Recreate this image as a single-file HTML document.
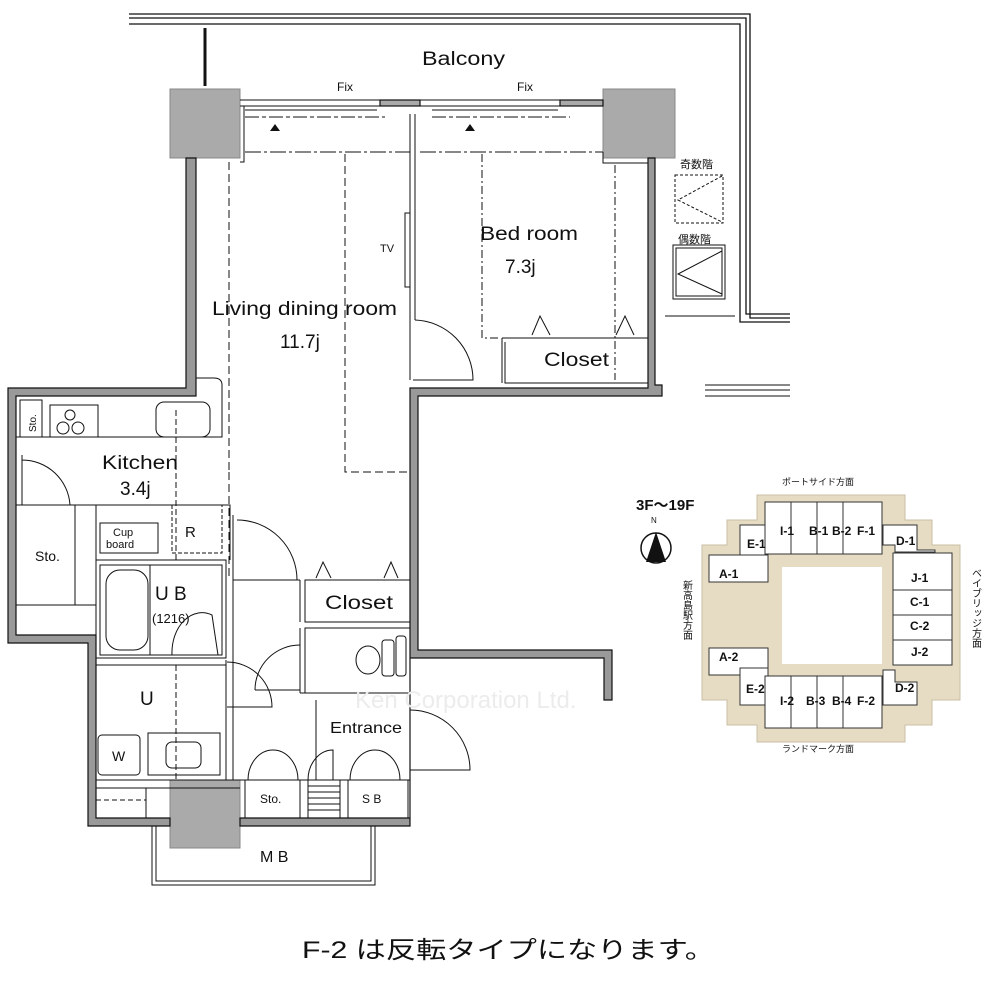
<!DOCTYPE html>
<html><head><meta charset="utf-8"><style>
html,body{margin:0;padding:0;background:#fff;}
svg{display:block;}
text{font-family:"Liberation Sans","Noto Sans CJK JP",sans-serif;fill:#111;}
</style></head><body>
<svg width="1000" height="1000" viewBox="0 0 1000 1000" xmlns="http://www.w3.org/2000/svg">
<g fill="none" stroke="#111" stroke-width="1.3">
<path d="M129,14 H750 V318 H790"/>
<path d="M129,18 H746 V314 H790"/>
<path d="M129,24 H740 V322 H790"/>
<line x1="205" y1="28" x2="205" y2="86" stroke-width="3"/>
</g>
<rect x="170" y="89" width="70" height="69" fill="#aaa" stroke="#888"/>
<rect x="603" y="89" width="72" height="69" fill="#aaa" stroke="#888"/>
<rect x="170" y="780" width="70" height="68" fill="#aaa" stroke="#888"/>
<g fill="#999" stroke="#111" stroke-width="1.2">
<path d="M186,158 H196 V396 H16 V635 H96 V818 H170 V826 H88 V643 H8 V388 H186 Z"/>
<path d="M240,818 H410 V658 H604 V700 H612 V650 H418 V396 H662 V385 H655 V158 H648 V388 H410 V826 H240 Z"/>
<rect x="380" y="100" width="40" height="6" fill="#aaa"/>
<rect x="560" y="100" width="43" height="6" fill="#aaa"/>
</g>
<g fill="none" stroke="#111" stroke-width="1">
<path d="M240,100 H380 M240,106 H380 M245,110 H377 M420,100 H560 M420,106 H560 M432,110 H558"/>
<path d="M245,117 H385 M432,117 H570" stroke-dasharray="14,3,4,3"/>
<path d="M245,152 H410 M420,152 H603" stroke-dasharray="16,3,3,3"/>
<path d="M244,106 V162 H240"/>
<path d="M603,152 V163 H648"/>
<path d="M410,114 V380 M415,114 V320"/>
<rect x="405" y="213" width="5" height="74"/>
<path d="M415,320 A60,60 0 0 1 473,380 H413"/>
<path d="M229,162 V478 M345,154 V472 H410 M229,472 V578" stroke-dasharray="8,4"/>
<path d="M482,154 V338 H500 M615,165 V380" stroke-dasharray="8,3,2,3"/>
<path d="M502,338 H648 M505,342 V383 H648 M502,338 V383"/>
<path d="M532,335 L540,316 L550,335 M616,335 L625,316 L634,335"/>
<rect x="675" y="175" width="48" height="48" stroke-dasharray="3,2"/>
<path d="M722,176 L678,200 L722,222" stroke-dasharray="3,2"/>
<rect x="673" y="245" width="52" height="54"/><rect x="676" y="248" width="46" height="48"/>
<path d="M722,251 L678,274 L722,294"/>
<path d="M665,316 H735 M705,385 H790 M705,390 H790 M705,396 H790"/>
<path d="M16,437 H222 V385 Q222,378 214,378 H196"/>
<rect x="20" y="400" width="22" height="37"/>
<rect x="50" y="405" width="48" height="32"/>
<circle cx="70" cy="415" r="5"/><circle cx="63" cy="428" r="6"/><circle cx="78" cy="428" r="6"/>
<rect x="156" y="402" width="54" height="35" rx="8"/>
<path d="M176,410 V437 M176,437 V560" stroke-dasharray="6,3"/>
<path d="M22,460 A48,48 0 0 1 70,505 M22,455 V505"/>
<path d="M16,505 H96 V605 M75,505 V605 M16,605 H96 M96,505 V605"/>
<path d="M96,505 H230 V560"/>
<rect x="172" y="505" width="50" height="48" stroke-dasharray="4,2"/>
<rect x="100" y="523" width="58" height="30"/>
<rect x="96" y="560" width="130" height="98"/><rect x="100" y="565" width="122" height="90"/>
<rect x="106" y="570" width="42" height="80" rx="14"/>
<path d="M150,565 V655 M172,655 A30,40 0 0 1 212,615 L218,655"/>
<path d="M96,665 H226 V780 M226,660 V775"/>
<path d="M176,665 V780" stroke-dasharray="6,3"/>
<rect x="98" y="735" width="42" height="40" rx="4"/>
<rect x="148" y="733" width="72" height="42"/>
<rect x="166" y="742" width="35" height="26" rx="6"/>
<path d="M96,780 H410 M96,788 H240"/>
<path d="M96,800 H146" stroke-dasharray="5,3"/>
<path d="M146,788 V818"/>
<path d="M233,515 V580 M233,580 H300 M233,580 V780 M300,580 V622 M300,628 V693 M300,693 H410"/>
<path d="M237,520 A60,60 0 0 1 297,580"/>
<path d="M227,662 A45,45 0 0 1 272,707 H227"/>
<path d="M255,690 A45,45 0 0 1 300,645 M255,690 H300"/>
<rect x="305" y="580" width="105" height="42"/>
<path d="M316,578 L323,562 L331,578 M384,578 L391,562 L398,578"/>
<rect x="305" y="628" width="105" height="65"/>
<ellipse cx="368" cy="660" rx="12" ry="14"/>
<rect x="382" y="640" width="12" height="36" rx="3"/><rect x="396" y="636" width="10" height="40" rx="3"/>
<path d="M316,700 V780 M410,700 V780"/>
<path d="M410,710 A60,60 0 0 1 470,770 H410"/>
<path d="M248,780 A25,30 0 0 1 273,750 A25,30 0 0 1 298,780 M308,780 A25,30 0 0 1 333,750 V780 M350,780 A25,30 0 0 1 375,750 A25,30 0 0 1 400,780"/>
<rect x="245" y="780" width="55" height="38"/>
<rect x="308" y="780" width="32" height="38"/>
<path d="M308,786 H340 M308,792 H340 M308,798 H340 M308,804 H340 M308,810 H340"/>
<rect x="348" y="780" width="60" height="38"/>
<path d="M152,826 V885 H375 V826 M156,826 V881 H371 V826"/>
</g>
<polygon points="275,124 270,131 280,131" fill="#111"/>
<polygon points="470,124 465,131 475,131" fill="#111"/>
<g font-size="19" lengthAdjust="spacingAndGlyphs">
<text x="422" y="65" textLength="83" lengthAdjust="spacingAndGlyphs">Balcony</text>
<text x="212" y="315" textLength="185" lengthAdjust="spacingAndGlyphs">Living dining room</text>
<text x="280" y="348">11.7j</text>
<text x="480" y="240" textLength="98" lengthAdjust="spacingAndGlyphs">Bed room</text>
<text x="505" y="273">7.3j</text>
<text x="544" y="366" textLength="65" lengthAdjust="spacingAndGlyphs">Closet</text>
<text x="102" y="469" textLength="76" lengthAdjust="spacingAndGlyphs">Kitchen</text>
<text x="120" y="495">3.4j</text>
<text x="325" y="609" textLength="68" lengthAdjust="spacingAndGlyphs">Closet</text>
<text x="140" y="705">U</text>
<text x="155" y="600">U B</text>
<text x="260" y="862" font-size="16">M B</text>
</g>
<g font-size="12">
<text x="337" y="91">Fix</text><text x="517" y="91">Fix</text>
<text x="380" y="252" font-size="11">TV</text>
<text x="185" y="537" font-size="15">R</text>
<text x="113" y="536" font-size="11">Cup</text><text x="106" y="548" font-size="11">board</text>
<text x="35" y="561" font-size="14">Sto.</text>
<text x="152" y="623" font-size="13">(1216)</text>
<text x="112" y="761" font-size="14">W</text>
<text x="330" y="733" font-size="16" textLength="72" lengthAdjust="spacingAndGlyphs">Entrance</text>
<text x="260" y="803">Sto.</text>
<text x="362" y="803">S B</text>
<text x="36" y="432" transform="rotate(-90 36 432)" font-size="10">Sto.</text>
<text x="680" y="168" font-size="11">奇数階</text>
<text x="678" y="243" font-size="11">偶数階</text>
</g>
<text x="355" y="708" font-size="24" style="fill:#ececec">Ken Corporation Ltd.</text>
<polygon points="757,495 905,495 905,520 932,520 932,545 960,545 960,700 932,700 932,725 905,725 905,742 757,742 757,725 727,725 727,700 702,700 702,545 727,545 727,520 757,520" fill="#e6dcc4" stroke="#c9bfa4"/>
<g fill="#fff" stroke="#333" stroke-width="1">
<rect x="765" y="502" width="117" height="52"/>
<path d="M791,502 V554 M817,502 V554 M843,502 V554"/>
<path d="M740,525 H765 V554 H768 V565 H745 V555 H740 Z"/>
<path d="M883,525 H917 V550 H935 V552 H895 V545 H883 Z" />
<rect x="709" y="555" width="59" height="27"/>
<rect x="893" y="553" width="59" height="112"/>
<path d="M893,590 H952 M893,615 H952 M893,640 H952"/>
<rect x="709" y="648" width="59" height="27"/>
<path d="M740,668 H768 V676 H765 V705 H740 Z"/>
<rect x="765" y="676" width="117" height="52"/>
<path d="M791,676 V728 M817,676 V728 M843,676 V728"/>
<path d="M883,670 H895 V682 H917 V705 H883 Z"/>
</g>
<rect x="782" y="567" width="100" height="97" fill="#fff"/>
<g font-size="12" font-weight="bold">
<text x="636" y="510" font-size="15">3F～19F</text>
<text x="747" y="548">E-1</text><text x="780" y="535">I-1</text><text x="809" y="535">B-1</text><text x="832" y="535">B-2</text><text x="857" y="535">F-1</text>
<text x="896" y="545">D-1</text><text x="719" y="578">A-1</text>
<text x="911" y="582">J-1</text><text x="910" y="606">C-1</text><text x="910" y="630">C-2</text><text x="911" y="656">J-2</text>
<text x="719" y="661">A-2</text><text x="746" y="693">E-2</text><text x="780" y="705">I-2</text><text x="806" y="705">B-3</text><text x="832" y="705">B-4</text><text x="857" y="705">F-2</text><text x="895" y="692">D-2</text>
</g>
<g font-size="9">
<text x="782" y="485">ポートサイド方面</text>
<text x="782" y="752">ランドマーク方面</text>
<text x="651" y="523" font-size="8">N</text>
</g>
<g font-size="10">
<text x="686" y="580" writing-mode="tb">新高島駅方面</text>
<text x="975" y="568" writing-mode="tb">ベイブリッジ方面</text>
</g>
<circle cx="656" cy="548" r="15" fill="none" stroke="#111" stroke-width="1.5"/>
<polygon points="656,532 646,562 666,562" fill="#111"/>
<text x="302" y="958" font-size="24" textLength="413" lengthAdjust="spacingAndGlyphs">F-2 は反転タイプになります。</text>
</svg>
</body></html>
